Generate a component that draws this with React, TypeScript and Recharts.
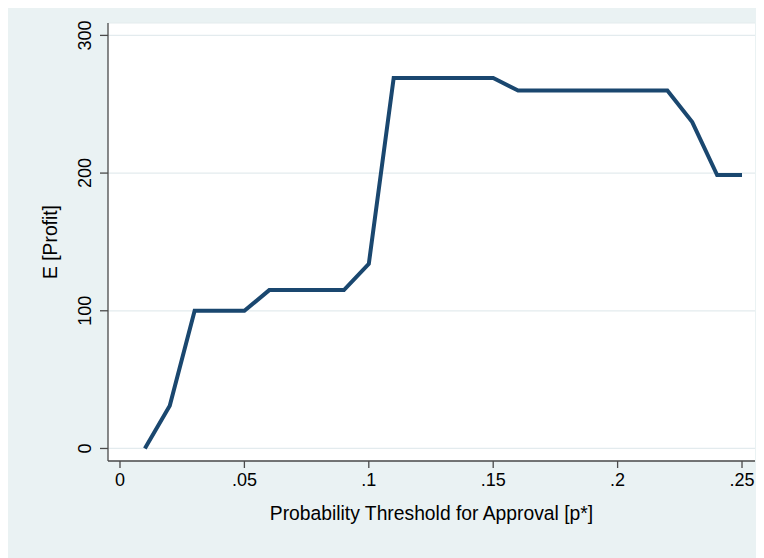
import React from 'react';
import { LineChart, Line, XAxis, YAxis, CartesianGrid } from 'recharts';

const thresholds = [0.01, 0.02, 0.03, 0.04, 0.05, 0.06, 0.07, 0.08, 0.09, 0.1, 0.11, 0.12, 0.13, 0.14, 0.15, 0.16, 0.17, 0.18, 0.19, 0.2, 0.21, 0.22, 0.23, 0.24, 0.25];
const profit = [0, 31, 100, 100, 100, 115, 115, 115, 115, 134, 269, 269, 269, 269, 269, 260, 260, 260, 260, 260, 260, 260, 237, 198.6, 198.6];

const xTicks = [0, 0.05, 0.1, 0.15, 0.2, 0.25];
const xTickLabels = ['0', '.05', '.1', '.15', '.2', '.25'];
const yTicks = [0, 100, 200, 300];
const yTickLabels = ['0', '100', '200', '300'];

const xTitle = 'Probability Threshold for Approval [p*]';
const yTitle = 'E [Profit]';

const data = thresholds.map((t, i) => ({ p: t, profit: profit[i] }));

const FONT = 'Arial, "Liberation Sans", Helvetica, sans-serif';
const AXIS = '#4a4a4a';

const YTick = (props: any) => {
  const { x, y, payload } = props;
  const idx = yTicks.indexOf(payload.value);
  const label = idx >= 0 ? yTickLabels[idx] : String(payload.value);
  return (
    <text x={x} y={y} transform={`rotate(-90 ${x} ${y})`} textAnchor="middle" fontSize={18} fill="#000" fontFamily={FONT}>
      {label}
    </text>
  );
};

const XTick = (props: any) => {
  const { x, y, payload } = props;
  const idx = xTicks.findIndex((v) => Math.abs(v - payload.value) < 1e-9);
  const label = idx >= 0 ? xTickLabels[idx] : String(payload.value);
  return (
    <text x={x} y={y + 18} textAnchor="middle" fontSize={18} fill="#000" fontFamily={FONT}>
      {label}
    </text>
  );
};

const XTitle = (props: any) => {
  const vb = props.viewBox || {};
  return (
    <text x={vb.x + vb.width / 2} y={vb.y + 59} textAnchor="middle" fontSize={19.3} fill="#000" fontFamily={FONT}>
      {xTitle}
    </text>
  );
};

const YTitle = (props: any) => {
  const vb = props.viewBox || {};
  const cx = 49;
  const cy = vb.y + vb.height / 2;
  return (
    <text x={cx} y={cy} transform={`rotate(-90 ${cx} ${cy})`} textAnchor="middle" fontSize={19.3} fill="#000" fontFamily={FONT}>
      {yTitle}
    </text>
  );
};

export default function App() {
  return (
    <div style={{ marginTop: -4, width: 756, height: 554, background: '#EAF2F3' }}>
      <LineChart width={756} height={554} data={data} margin={{ top: 19, right: 9, left: 0, bottom: 0 }}>
        <CartesianGrid horizontal vertical={false} fill="#ffffff" stroke="#e3ebee" strokeWidth={1.2} />
        <XAxis
          dataKey="p"
          type="number"
          domain={[-0.00482, 0.25522]}
          ticks={xTicks}
          allowDataOverflow
          height={97}
          tickSize={7}
          tickMargin={0}
          tick={<XTick />}
          stroke={AXIS}
          axisLine={{ stroke: AXIS, strokeWidth: 1.3 }}
          tickLine={{ stroke: AXIS, strokeWidth: 1.3 }}
          label={{ content: <XTitle /> } as any}
        />
        <YAxis
          type="number"
          domain={[-9.1, 309]}
          ticks={yTicks}
          allowDataOverflow
          width={100}
          tickSize={8}
          tickMargin={9}
          tick={<YTick />}
          stroke={AXIS}
          axisLine={{ stroke: AXIS, strokeWidth: 1.3 }}
          tickLine={{ stroke: AXIS, strokeWidth: 1.3 }}
          label={{ content: <YTitle /> } as any}
        />
        <Line
          type="linear"
          dataKey="profit"
          stroke="#1A476F"
          strokeWidth={4}
          dot={false}
          activeDot={false}
          isAnimationActive={false}
        />
      </LineChart>
    </div>
  );
}
